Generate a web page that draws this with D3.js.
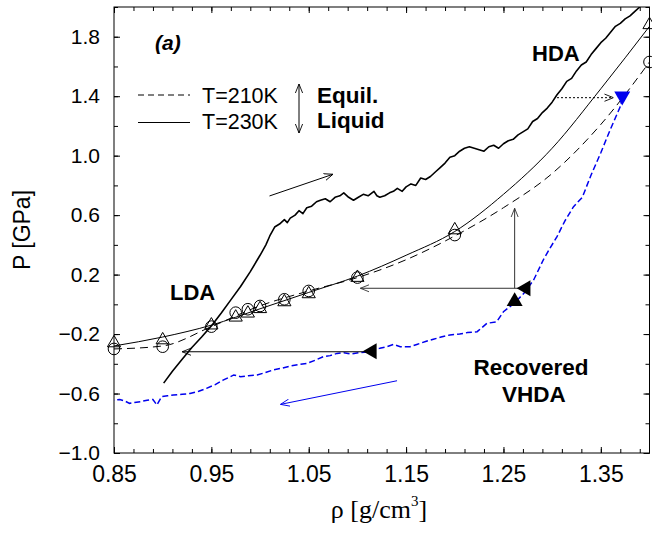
<!DOCTYPE html>
<html><head><meta charset="utf-8">
<script src="https://cdn.jsdelivr.net/npm/d3@7"></script>
<style>
body{margin:0;background:#fff;}
svg{display:block;}
text{font-family:"Liberation Sans",Arial,sans-serif;}
</style></head>
<body><svg id="c" width="652" height="534"></svg>
<script>
// ---- data ----
const xTicks = [0.85, 0.95, 1.05, 1.15, 1.25, 1.35];
const yTicks = [-1.0, -0.6, -0.2, 0.2, 0.6, 1.0, 1.4, 1.8];
const xMinor = d3.range(0, 28).map(i => +(0.85 + i * 0.02).toFixed(3));
const yMinor = d3.range(0, 16).map(i => +(-1.0 + i * 0.2).toFixed(2));

// equilibrium liquid fits
const fitRho = [0.85, 0.90, 0.95, 1.00, 1.05, 1.10, 1.15, 1.20, 1.25, 1.30, 1.35, 1.40];
const fit210 = [-0.30, -0.28, -0.15, -0.01, 0.09, 0.18, 0.30, 0.46, 0.65, 0.88, 1.21, 1.63];
const fit230 = [-0.28, -0.22, -0.14, -0.03, 0.08, 0.19, 0.33, 0.49, 0.74, 1.05, 1.45, 1.87];

// simulation points
const simRho = [0.85, 0.90, 0.95, 0.975, 0.9875, 1.00, 1.025, 1.05, 1.10, 1.20, 1.40];
const sim210 = [-0.30, -0.285, -0.15, -0.056, -0.033, -0.011, 0.034, 0.09, 0.18, 0.466, 1.63];
const sim230 = [-0.26, -0.24, -0.14, -0.087, -0.06, -0.03, 0.016, 0.07, 0.18, 0.50, 1.88];

// compression LDA -> HDA
const compRho = [0.901,0.91,0.92,0.93,0.94,0.95,0.96,0.97,0.98,0.99,1.00,1.006,1.01,1.015,1.02,1.025,1.028,1.031,1.036,1.04,1.044,1.048,1.053,1.058,1.062,1.067,1.072,1.077,1.082,1.086,1.091,1.096,1.101,1.106,1.111,1.117,1.12,1.123,1.128,1.133,1.137,1.141,1.146,1.15,1.155,1.16,1.165,1.17,1.175,1.18,1.185,1.19,1.195,1.2,1.205,1.21,1.215,1.22,1.225,1.23,1.235,1.24,1.245,1.25,1.255,1.26,1.265,1.27,1.275,1.28,1.285,1.29,1.295,1.30,1.305,1.31,1.315,1.32,1.325,1.33,1.335,1.34,1.345,1.35,1.355,1.36,1.365,1.37,1.375,1.38,1.385,1.39];
const compP = [-0.53,-0.45,-0.37,-0.29,-0.22,-0.145,-0.06,0.03,0.12,0.22,0.33,0.40,0.46,0.52,0.54,0.57,0.55,0.58,0.60,0.63,0.61,0.65,0.66,0.69,0.70,0.71,0.69,0.72,0.73,0.75,0.72,0.70,0.72,0.74,0.73,0.76,0.73,0.72,0.73,0.75,0.76,0.78,0.76,0.79,0.81,0.80,0.85,0.84,0.86,0.89,0.92,0.95,0.99,1.00,1.03,1.05,1.06,1.05,1.04,1.03,1.06,1.07,1.05,1.08,1.10,1.11,1.14,1.16,1.18,1.23,1.25,1.29,1.32,1.36,1.41,1.45,1.50,1.52,1.57,1.61,1.63,1.68,1.72,1.76,1.79,1.83,1.87,1.89,1.92,1.94,1.97,2.00];

// decompression (recovered VHDA)
const decRho = [1.372,1.37,1.36,1.35,1.34,1.331,1.322,1.313,1.305,1.298,1.291,1.281,1.271,1.261,1.25,1.243,1.233,1.223,1.213,1.205,1.195,1.186,1.178,1.17,1.161,1.154,1.144,1.137,1.13,1.123,1.117,1.11,1.102,1.093,1.086,1.079,1.072,1.065,1.057,1.048,1.04,1.031,1.022,1.014,1.005,0.997,0.988,0.98,0.973,0.967,0.962,0.954,0.945,0.937,0.928,0.92,0.911,0.905,0.899,0.894,0.89,0.884,0.877,0.871,0.866,0.861,0.856,0.85];
const decP = [1.39,1.33,1.18,1.02,0.87,0.72,0.657,0.56,0.455,0.38,0.30,0.164,0.074,0.007,-0.05,-0.117,-0.128,-0.184,-0.19,-0.20,-0.206,-0.22,-0.235,-0.25,-0.27,-0.285,-0.285,-0.27,-0.285,-0.296,-0.30,-0.32,-0.325,-0.334,-0.325,-0.33,-0.345,-0.352,-0.375,-0.397,-0.405,-0.415,-0.43,-0.44,-0.46,-0.475,-0.48,-0.487,-0.475,-0.495,-0.51,-0.54,-0.565,-0.585,-0.60,-0.605,-0.61,-0.615,-0.62,-0.677,-0.64,-0.645,-0.655,-0.66,-0.666,-0.65,-0.64,-0.645];

// annotation arrows [rho0, P0, rho1, P1]
const arrowUpRight = [1.0097, 0.729, 1.0749, 0.875];
const arrowBlue = [1.1407, -0.514, 1.021, -0.673];
const arrowLow = [1.113, -0.319, 0.92, -0.319];
const arrowMid = [1.271, 0.108, 1.103, 0.108];
const arrowVert = [1.2615, 0.108, 1.2615, 0.646];
const arrowDotted = [1.305, 1.39, 1.363, 1.39];
const filledLeft = [[1.115, -0.316], [1.273, 0.108]];
const filledUp = [[1.2615, 0.02]];
const blueDown = [[1.372, 1.40]];

// ---- drawing ----
const svg = d3.select("#c");
const L = 114, R = 649.5, T = 7, B = 453;
const x = d3.scaleLinear().domain([0.85, 1.40]).range([L, R]);
const y = d3.scaleLinear().domain([-1.0, 2.0]).range([B, T]);

const defs = svg.append("defs");
defs.append("clipPath").attr("id", "clip").append("rect")
  .attr("x", L).attr("y", T).attr("width", R - L).attr("height", B - T);
function head(id, color) {
  defs.append("marker").attr("id", id).attr("viewBox", "0 -5 10 10")
    .attr("refX", 10).attr("refY", 0).attr("markerWidth", 9).attr("markerHeight", 9)
    .attr("markerUnits", "userSpaceOnUse").attr("orient", "auto")
    .append("path").attr("d", "M0,-4L10,0L0,4").attr("fill", "none")
    .attr("stroke", color).attr("stroke-width", 1);
}
head("hBlack", "#000"); head("hBlue", "#0000ee"); head("hGray", "#333");

// axes
function axis(gen, tr, vals, size, fmt, pad, fs) {
  const g = svg.append("g").attr("transform", tr)
    .call(gen.tickValues(vals).tickSize(size).tickPadding(pad).tickFormat(fmt));
  g.select(".domain").remove();
  g.selectAll("line").attr("stroke", "#000");
  g.selectAll("text").attr("font-size", fs).attr("fill", "#000")
    .attr("font-family", "Liberation Sans, Arial, sans-serif");
  return g;
}
const f = d => d3.format(".2f")(d).replace("-", "\u2212");
const fy = d => d3.format(".1f")(d).replace("-", "\u2212");
axis(d3.axisBottom(x), `translate(0,${B})`, xTicks, -6, f, 13, 23);
axis(d3.axisBottom(x), `translate(0,${B})`, xMinor, -4, "", 3, 0);
axis(d3.axisTop(x), `translate(0,${T})`, xTicks, -6, "", 3, 0);
axis(d3.axisTop(x), `translate(0,${T})`, xMinor, -4, "", 3, 0);
axis(d3.axisLeft(y), `translate(${L},0)`, yTicks, -6, fy, 14, 21);
axis(d3.axisLeft(y), `translate(${L},0)`, yMinor, -4, "", 3, 0);
axis(d3.axisRight(y), `translate(${R},0)`, yTicks, -6, "", 3, 0);
axis(d3.axisRight(y), `translate(${R},0)`, yMinor, -4, "", 3, 0);

svg.append("rect").attr("x", L).attr("y", T).attr("width", R - L).attr("height", B - T)
  .attr("fill", "none").attr("stroke", "#000").attr("stroke-width", 1);

// axis titles
svg.append("text").attr("transform", "translate(30,230) rotate(-90)")
  .attr("text-anchor", "middle").attr("font-size", 23).text("P [GPa]");
const xt = svg.append("text").attr("x", 379).attr("y", 518).attr("text-anchor", "middle")
  .attr("font-size", 26)
  .style("font-family", "'Liberation Serif','Times New Roman',serif");
xt.append("tspan").text("\u03c1 [g/cm");
xt.append("tspan").attr("font-size", 15).attr("dy", -12).text("3");
xt.append("tspan").attr("dy", 12).text("]");

const plot = svg.append("g").attr("clip-path", "url(#clip)");
const lineFit = d3.line().x(d => x(d[0])).y(d => y(d[1])).curve(d3.curveMonotoneX);
const lineRaw = d3.line().x(d => x(d[0])).y(d => y(d[1]));

plot.append("path").attr("d", lineFit(fitRho.map((r, i) => [r, fit210[i]])))
  .attr("fill", "none").attr("stroke", "#000").attr("stroke-width", 1).attr("stroke-dasharray", "8,5");
plot.append("path").attr("d", lineFit(fitRho.map((r, i) => [r, fit230[i]])))
  .attr("fill", "none").attr("stroke", "#000").attr("stroke-width", 1);

plot.append("path").attr("d", lineRaw(compRho.map((r, i) => [r, compP[i]])))
  .attr("fill", "none").attr("stroke", "#000").attr("stroke-width", 1.6).attr("stroke-linejoin", "round");
plot.append("path").attr("d", lineRaw(decRho.map((r, i) => [r, decP[i]])))
  .attr("fill", "none").attr("stroke", "#0000ee").attr("stroke-width", 1.5).attr("stroke-dasharray", "6,3");

// markers (not clipped: image edge cuts them)
const circ = d3.symbol().type(d3.symbolCircle).size(106);
const tri = d3.symbol().type(d3.symbolTriangle).size(75);
svg.append("g").selectAll("path").data(simRho.map((r, i) => [r, sim210[i]])).join("path")
  .attr("transform", d => `translate(${x(d[0])},${y(d[1])})`).attr("d", circ)
  .attr("fill", "none").attr("stroke", "#000").attr("stroke-width", 1);
svg.append("g").selectAll("path").data(simRho.map((r, i) => [r, sim230[i]])).join("path")
  .attr("transform", d => `translate(${x(d[0])},${y(d[1])})`).attr("d", tri)
  .attr("fill", "none").attr("stroke", "#000").attr("stroke-width", 1);

// arrows
function arrow(a, color, mk, dash) {
  svg.append("line").attr("x1", x(a[0])).attr("y1", y(a[1])).attr("x2", x(a[2])).attr("y2", y(a[3]))
    .attr("stroke", color).attr("stroke-width", 1).attr("marker-end", `url(#${mk})`)
    .attr("stroke-dasharray", dash || null);
}
arrow(arrowUpRight, "#000", "hBlack");
arrow(arrowBlue, "#0000ee", "hBlue");
arrow(arrowLow, "#000", "hBlack");
arrow(arrowMid, "#333", "hGray");
arrow(arrowVert, "#333", "hGray");
arrow(arrowDotted, "#000", "hBlack", "2,2");

const bigTri = d3.symbol().type(d3.symbolTriangle).size(110);
svg.append("g").selectAll("path").data(filledLeft).join("path")
  .attr("transform", d => `translate(${x(d[0])},${y(d[1])}) rotate(-90)`).attr("d", bigTri).attr("fill", "#000");
svg.append("g").selectAll("path").data(filledUp).join("path")
  .attr("transform", d => `translate(${x(d[0])},${y(d[1])})`).attr("d", bigTri).attr("fill", "#000");
svg.append("g").selectAll("path").data(blueDown).join("path")
  .attr("transform", d => `translate(${x(d[0])},${y(d[1])}) rotate(180)`).attr("d", bigTri).attr("fill", "#0000ee");

// labels
function lab(t, px, py, opts) {
  return svg.append("text").attr("x", px).attr("y", py).attr("font-size", opts.fs || 22.5)
    .attr("font-weight", opts.bold ? "bold" : null).attr("font-style", opts.italic ? "italic" : null)
    .attr("text-anchor", opts.anchor || "start").text(t);
}
lab("(a)", 155, 50, {bold: true, italic: true, fs: 21});
lab("HDA", 532, 61, {bold: true, fs: 22});
lab("LDA", 170, 300, {bold: true, fs: 22});
lab("Recovered", 531, 375, {bold: true, anchor: "middle"});
lab("VHDA", 534, 402, {bold: true, anchor: "middle"});
lab("Equil.", 317, 103, {bold: true});
lab("Liquid", 317, 128, {bold: true});
lab("T=210K", 202, 103, {fs: 21.5});
lab("T=230K", 202, 129, {fs: 21.5});

// legend lines
svg.append("line").attr("x1", 138).attr("x2", 190).attr("y1", 95).attr("y2", 95)
  .attr("stroke", "#000").attr("stroke-dasharray", "6,4");
svg.append("line").attr("x1", 138).attr("x2", 190).attr("y1", 122.5).attr("y2", 122.5)
  .attr("stroke", "#000");
// double-headed arrow
svg.append("line").attr("x1", 299).attr("x2", 299).attr("y1", 108).attr("y2", 84)
  .attr("stroke", "#000").attr("marker-end", "url(#hBlack)");
svg.append("line").attr("x1", 299).attr("x2", 299).attr("y1", 108).attr("y2", 133)
  .attr("stroke", "#000").attr("marker-end", "url(#hBlack)");
</script></body></html>
